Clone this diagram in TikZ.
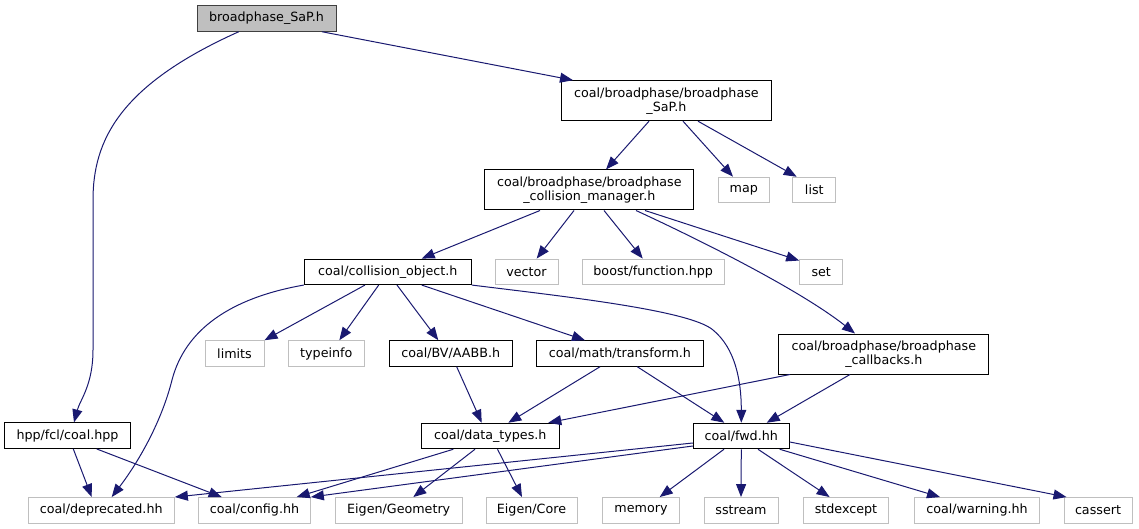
\documentclass[tikz,border=0pt]{standalone}
\usepackage{fontspec}
\setmainfont{DejaVu Sans}
\usepackage{xcolor}
\usetikzlibrary{arrows.meta,calc}
\definecolor{edgeblue}{HTML}{191970}
\definecolor{extgray}{HTML}{BFBFBF}
\definecolor{rootborder}{HTML}{404040}

\begin{document}
\begin{tikzpicture}[x=1pt,y=-1pt,
    file/.style={draw=black,fill=white,line width=1pt,inner sep=0pt,minimum height=25.5pt,
      align=center,font=\fontsize{12.7}{14}\selectfont},
    twoline/.style={file,minimum height=40pt},
    root/.style={file,draw=rootborder,fill=extgray},
    ext/.style={file,draw=extgray},
    edge/.style={draw=edgeblue,line width=1pt,-{Triangle[length=13pt,width=10pt]}}]
\useasboundingbox (0,0) rectangle (1139,529);

\node[root,minimum width=139pt] (top) at (266.5,18.5) {broadphase\_SaP.h};
\node[twoline,minimum width=209.6pt] (sap) at (666.4,100.7) {coal/broadphase/broadphase\\\_SaP.h};
\node[twoline,minimum width=209.3pt] (manager) at (589.3,190) {coal/broadphase/broadphase\\\_collision\_manager.h};
\node[ext,minimum width=51pt] (map) at (743.8,190) {map};
\node[ext,minimum width=43.3pt] (list) at (814.3,190) {list};
\node[file,minimum width=167pt] (object) at (387.8,271.8) {coal/collision\_object.h};
\node[ext,minimum width=63pt] (vector) at (526.5,271.8) {vector};
\node[ext,minimum width=142.3pt] (boost) at (653.2,271.8) {boost/function.hpp};
\node[ext,minimum width=43pt] (set) at (821.2,271.8) {set};
\node[ext,minimum width=59pt] (limits) at (234.5,353.5) {limits};
\node[ext,minimum width=76pt] (typeinfo) at (326.3,353.5) {typeinfo};
\node[file,minimum width=123.3pt] (aabb) at (450.7,353.5) {coal/BV/AABB.h};
\node[file,minimum width=167pt] (transform) at (619.9,353.5) {coal/math/transform.h};
\node[twoline,minimum width=209.7pt] (callbacks) at (883.8,354) {coal/broadphase/broadphase\\\_callbacks.h};
\node[file,minimum width=125.7pt] (coalhpp) at (67.5,435.7) {hpp/fcl/coal.hpp};
\node[file,minimum width=138pt] (datatypes) at (490.3,436) {coal/data\_types.h};
\node[file,minimum width=96pt] (fwd) at (741.3,436) {coal/fwd.hh};
\node[ext,minimum width=146.3pt] (deprecated) at (101.2,510.3) {coal/deprecated.hh};
\node[ext,minimum width=111.7pt] (config) at (254.5,510.3) {coal/config.hh};
\node[ext,minimum width=126.7pt] (geometry) at (398.7,510.3) {Eigen/Geometry};
\node[ext,minimum width=91pt] (core) at (531.5,510.3) {Eigen/Core};
\node[ext,minimum width=77.5pt] (memory) at (641,510.3) {memory};
\node[ext,minimum width=74pt] (sstream) at (741,510.3) {sstream};
\node[ext,minimum width=85.7pt] (stdexcept) at (846,510.3) {stdexcept};
\node[ext,minimum width=125.5pt] (warning) at (977,510.3) {coal/warning.hh};
\node[ext,minimum width=68pt] (cassert) at (1098,510.3) {cassert};

\draw[edge] ([xshift=-27.8pt]top.south) .. controls (120,85) and (93,140) .. (93,200) -- (93,350)
  .. controls (93,385) and (80,400) .. ([xshift=6.5pt]coalhpp.north);
\draw[edge] ([xshift=55.5pt]top.south) -- ([xshift=-93.4pt]sap.north);
\draw[edge] ([xshift=-17.4pt]sap.south) -- ([xshift=16.7pt]manager.north);
\draw[edge] ([xshift=16.6pt]sap.south) -- ([xshift=-10.8pt]map.north);
\draw[edge] ([xshift=31.6pt]sap.south) -- ([xshift=-17.6pt]list.north);
\draw[edge] ([xshift=-49.3pt]manager.south) -- ([xshift=33.9pt]object.north);
\draw[edge] ([xshift=-15.3pt]manager.south) -- ([xshift=10.2pt]vector.north);
\draw[edge] ([xshift=14.7pt]manager.south) -- ([xshift=-10.5pt]boost.north);
\draw[edge] ([xshift=55.7pt]manager.south) -- ([yshift=-2pt]set.north west);
\draw[edge] ([xshift=46.7pt]manager.south) .. controls (700,240) and (800,290) .. ([xshift=-28.8pt]callbacks.north);
\draw[edge] (object.south west) .. controls (230,298) and (185,330) .. (172,380)
  .. controls (162,420) and (140,460) .. ([xshift=10.5pt]deprecated.north);
\draw[edge] ([xshift=-22.8pt]object.south) -- (limits.north east);
\draw[edge] ([xshift=-9.1pt]object.south) -- ([xshift=13pt]typeinfo.north);
\draw[edge] ([xshift=9.2pt]object.south) -- ([xshift=-12.4pt]aabb.north);
\draw[edge] ([xshift=33.9pt]object.south) -- ([xshift=-34.9pt]transform.north);
\draw[edge] (object.south east) .. controls (560,296) and (690,310) .. (713,330)
  .. controls (735,348) and (741.3,380) .. (fwd.north);
\draw[edge] ([xshift=6pt]aabb.south) -- ([xshift=-8.6pt]datatypes.north);
\draw[edge] ([xshift=-19.9pt]transform.south) -- ([xshift=18pt]datatypes.north);
\draw[edge] ([xshift=17.4pt]transform.south) -- ([xshift=-17pt]fwd.north);
\draw[edge] ([xshift=-93.8pt]callbacks.south) -- ([xshift=58pt]datatypes.north);
\draw[edge] ([xshift=-33.8pt]callbacks.south) -- ([xshift=25.4pt]fwd.north);
\draw[edge] ([xshift=5.8pt]coalhpp.south) -- ([xshift=-9.5pt]deprecated.north);
\draw[edge] ([xshift=29.2pt]coalhpp.south) -- ([xshift=-32.8pt]config.north);
\draw[edge] ([xshift=-37pt]datatypes.south) -- ([xshift=42.2pt]config.north);
\draw[edge] ([xshift=-15.3pt]datatypes.south) -- ([xshift=14.6pt]geometry.north);
\draw[edge] ([xshift=7.2pt]datatypes.south) -- ([xshift=-9.5pt]core.north);
\draw[edge] ([yshift=-7pt]fwd.west) -- (deprecated.north east);
\draw[edge] ([yshift=-10pt]fwd.west) -- (config.north east);
\draw[edge] ([xshift=-17.3pt]fwd.south) -- ([xshift=18.7pt]memory.north);
\draw[edge] (fwd.south) -- (sstream.north);
\draw[edge] ([xshift=16.7pt]fwd.south) -- ([xshift=-16.4pt]stdexcept.north);
\draw[edge] ([xshift=38.4pt]fwd.south) -- ([xshift=-37pt]warning.north);
\draw[edge] ([yshift=-6pt]fwd.east) -- ([xshift=3pt]cassert.north west);
\end{tikzpicture}
\end{document}
